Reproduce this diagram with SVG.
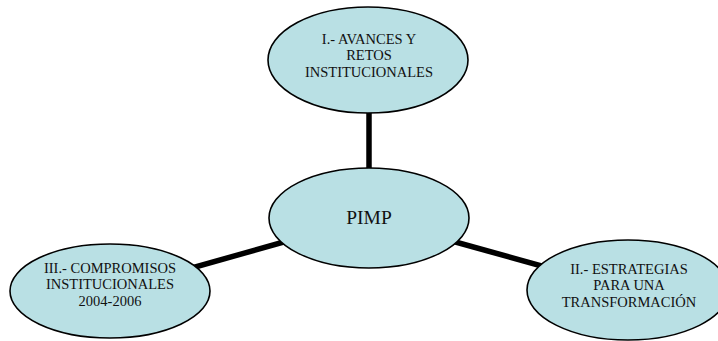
<svg xmlns="http://www.w3.org/2000/svg" width="718" height="341" viewBox="0 0 718 341">
<style>
.node ellipse{fill:#b9e0e4;stroke:#000;stroke-width:1.6}
.node text{font-family:"Liberation Serif","Times New Roman",serif;font-size:14.5px;fill:#111;text-anchor:middle}
.conn line{stroke:#000;stroke-width:5.5}
</style>
<rect width="718" height="341" fill="#fff"/>
<g id="connectors" class="conn">
<line x1="369" y1="100" x2="369" y2="190"/>
<line x1="369" y1="218" x2="110" y2="291"/>
<line x1="369" y1="218" x2="628" y2="290"/>
</g>
<g id="node-top" class="node">
<ellipse cx="368" cy="60" rx="100" ry="53"/>
<text x="369" y="43.5">I.- AVANCES Y</text>
<text x="369" y="60">RETOS</text>
<text x="369" y="76.5">INSTITUCIONALES</text>
</g>
<g id="node-center" class="node">
<ellipse cx="369" cy="218" rx="100" ry="50"/>
<text x="369" y="224" style="font-size:19.5px">PIMP</text>
</g>
<g id="node-left" class="node">
<ellipse cx="110" cy="291" rx="100" ry="47"/>
<text x="110" y="272.5">III.- COMPROMISOS</text>
<text x="110" y="289">INSTITUCIONALES</text>
<text x="110" y="305.5">2004-2006</text>
</g>
<g id="node-right" class="node">
<ellipse cx="628" cy="290" rx="101" ry="50"/>
<text x="629" y="273.5">II.- ESTRATEGIAS</text>
<text x="629" y="290">PARA UNA</text>
<text x="629" y="306.5">TRANSFORMACIÓN</text>
</g>
</svg>
